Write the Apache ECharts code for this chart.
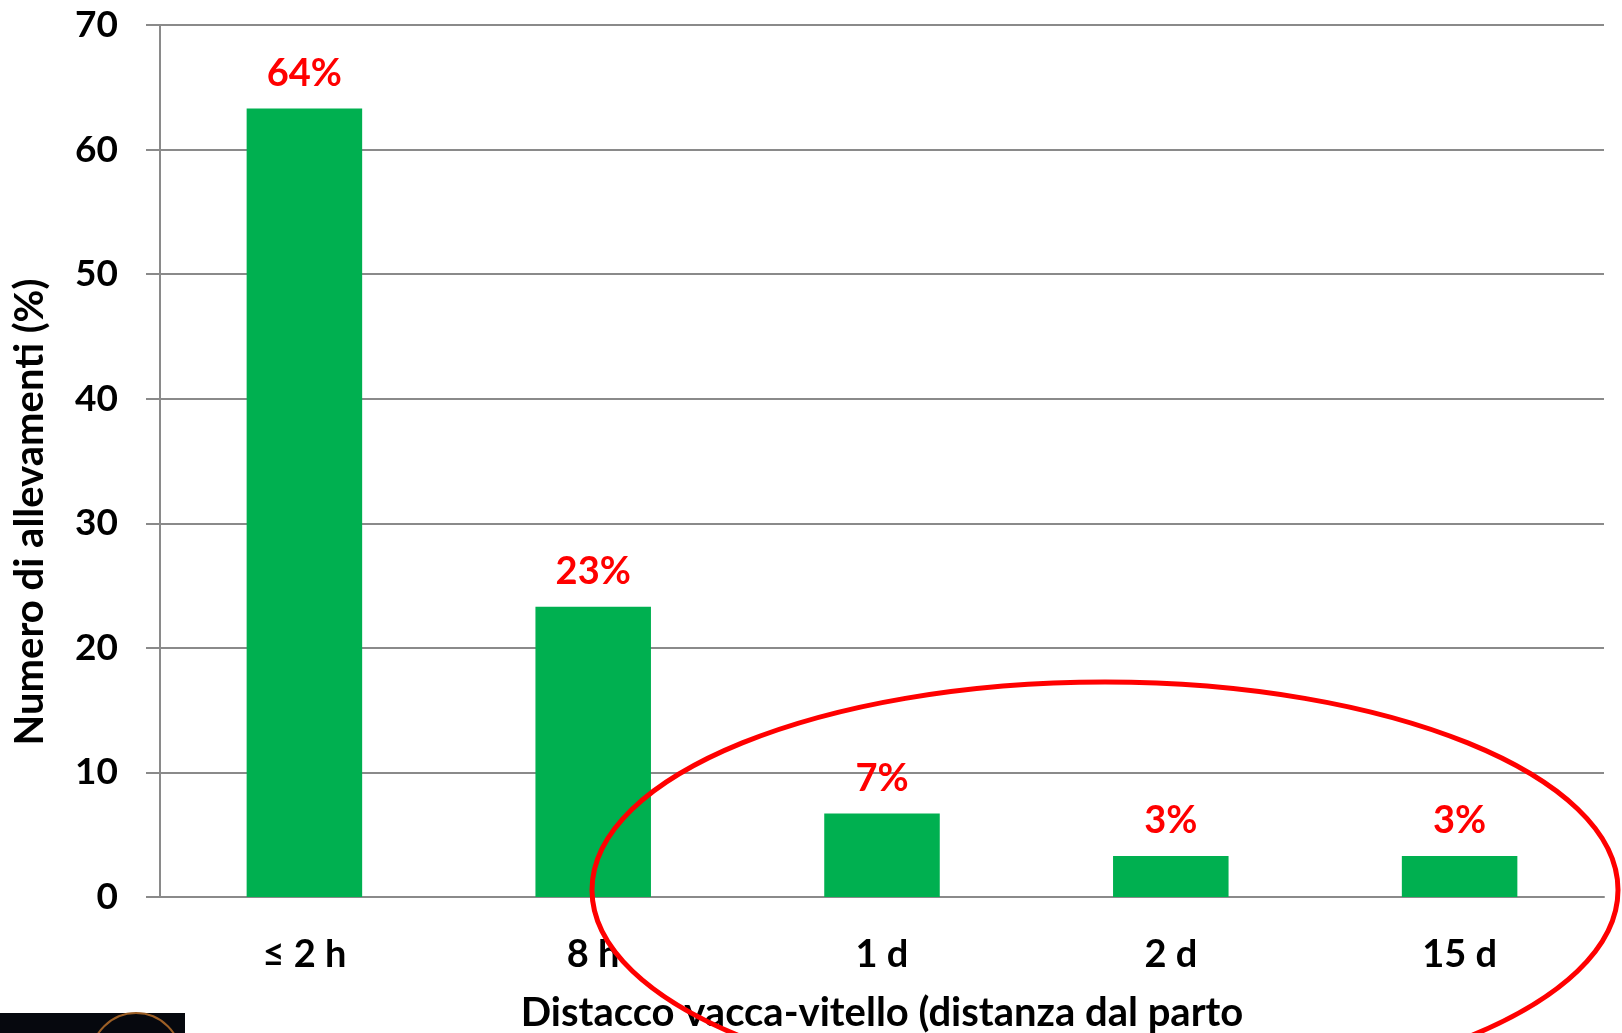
<!DOCTYPE html>
<html>
<head>
<meta charset="utf-8">
<title>Distacco vacca-vitello</title>
<script src="https://cdn.jsdelivr.net/npm/echarts@6/dist/echarts.min.js"></script>
<style>
  html, body { margin: 0; padding: 0; background: #fff; }
  #barMain { width: 1622px; height: 1033px; }
</style>
</head>
<body>
<div id="barMain"></div>
<script>
  // dati
  var categorie = ['≤ 2 h', '8 h', '1 d', '2 d', '15 d']
  var valori = [63.3, 23.3, 6.7, 3.3, 3.3]
  var etichette = ['64%', '23%', '7%', '3%', '3%']
  var tickY = [0, 10, 20, 30, 40, 50, 60, 70]

  var font = 'Lato, "Open Sans", sans-serif'
  var grigio = '#8a8a8a'

  var chart = echarts.init(document.getElementById('barMain'))
  var option = {
    animation: false,
    backgroundColor: '#ffffff',
    grid: {
      left: 160,
      right: 18,
      top: 25,
      bottom: 136,
      outerBoundsMode: 'none',
      containLabel: false
    },
    xAxis: {
      type: 'category',
      data: categorie,
      name: 'Distacco vacca-vitello (distanza dal parto',
      nameLocation: 'middle',
      nameGap: 96,
      nameTextStyle: {
        color: '#000',
        fontFamily: font,
        fontWeight: 'bold',
        fontSize: 40
      },
      axisLine: {
        lineStyle: { color: grigio, width: 2 }
      },
      axisTick: {
        length: 13,
        lineStyle: { color: grigio, width: 2 }
      },
      axisLabel: {
        margin: 39,
        color: '#000',
        fontFamily: font,
        fontWeight: 'bold',
        fontSize: 38
      }
    },
    yAxis: {
      type: 'value',
      min: tickY[0],
      max: tickY[tickY.length - 1],
      interval: 10,
      axisLine: {
        show: true,
        lineStyle: { color: grigio, width: 2 }
      },
      axisTick: {
        show: true,
        length: 14,
        lineStyle: { color: grigio, width: 2 }
      },
      splitLine: {
        lineStyle: { color: grigio, width: 2 }
      },
      axisLabel: {
        margin: 42,
        color: '#000',
        fontFamily: font,
        fontWeight: 'bold',
        fontSize: 37
      }
    },
    series: [{
      type: 'bar',
      data: valori,
      barWidth: '40%',
      itemStyle: { color: '#00b050' },
      label: {
        show: true,
        position: 'top',
        distance: 16,
        color: '#ff0000',
        fontFamily: font,
        fontWeight: 'bold',
        fontSize: 38,
        formatter: function (p) { return etichette[p.dataIndex] }
      }
    }],
    graphic: [
      // titolo asse y
      {
        type: 'text',
        x: 30,
        y: 512,
        rotation: Math.PI / 2,
        style: {
          text: 'Numero di allevamenti (%)',
          fill: '#000',
          font: 'bold 40px ' + font,
          align: 'center',
          verticalAlign: 'middle'
        }
      },
      // ellisse rossa
      {
        type: 'ellipse',
        shape: { cx: 1105, cy: 890, rx: 513, ry: 208 },
        style: { fill: 'none', stroke: '#ff0000', lineWidth: 5 },
        z: 100
      },
      // immagine in basso a sinistra
      {
        type: 'rect',
        shape: { x: 0, y: 1013, width: 185, height: 20 },
        style: { fill: '#06080e' }
      },
      {
        type: 'circle',
        shape: { cx: 136, cy: 1058, r: 45 },
        style: { fill: 'none', stroke: '#9c5f26', lineWidth: 2 }
      }
    ]
  }
  chart.setOption(option)
  window.addEventListener('resize', function () { chart.resize() })
</script>
</body>
</html>
